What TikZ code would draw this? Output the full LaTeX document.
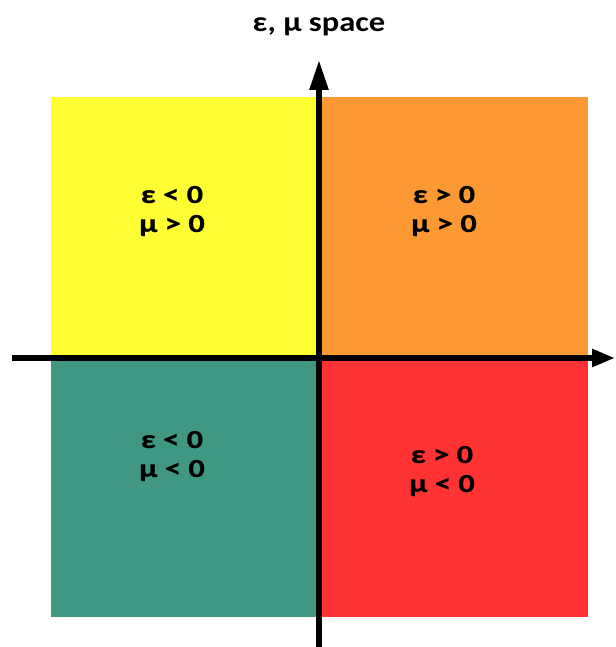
\documentclass[tikz,border=0pt]{standalone}
\usepackage{fontspec}
\setmainfont{Carlito}
\newfontfamily\quadfont[FakeStretch=1.25, FakeBold=0.6]{Carlito}
\newfontfamily\titlefont[FakeStretch=1.16]{Carlito}
\usetikzlibrary{arrows.meta}
\definecolor{quadyellow}{RGB}{255,255,51}
\definecolor{quadorange}{RGB}{253,153,51}
\definecolor{quadgreen}{RGB}{64,152,130}
\definecolor{quadred}{RGB}{255,51,51}

\begin{document}
\begin{tikzpicture}[x=1pt, y=-1pt,
    quadlabel/.style={font=\quadfont\bfseries\fontsize{26}{29}\selectfont, align=center, inner sep=0pt},
    axisline/.style={line width=5.5pt}]
            \useasboundingbox (0,0) rectangle (615,647);
            
            % Quadrants
            \fill[quadyellow] (51,97) rectangle (320,358);
            \fill[quadorange] (320,97) rectangle (588,358);
            \fill[quadgreen] (51,358) rectangle (320,617);
            \fill[quadred] (320,358) rectangle (588,617);
            
            % Quadrant labels
            \node[quadlabel] (negpos) at (172,211) {ε < 0\\μ > 0};
            \node[quadlabel] (pospos) at (444,211) {ε > 0\\μ > 0};
            \node[quadlabel] (negneg) at (172,456) {ε < 0\\μ < 0};
            \node[quadlabel] (posneg) at (442,471) {ε > 0\\μ < 0};
            
            % Title
            \node[font=\titlefont\bfseries\fontsize{28}{30}\selectfont] (title) at (319,27) {ε, μ space};
            
            % Axes
            \coordinate (xstart) at (12,358);
            \coordinate (xend) at (615,358);
            \coordinate (ystart) at (319,647);
            \coordinate (yend) at (319,60);
            \draw[axisline, -{Triangle[length=23pt,width=17pt]}] (xstart) -- (xend);
            \draw[axisline, -{Triangle[length=30pt,width=18pt]}] (ystart) -- (yend);
        \end{tikzpicture}
\end{document}
